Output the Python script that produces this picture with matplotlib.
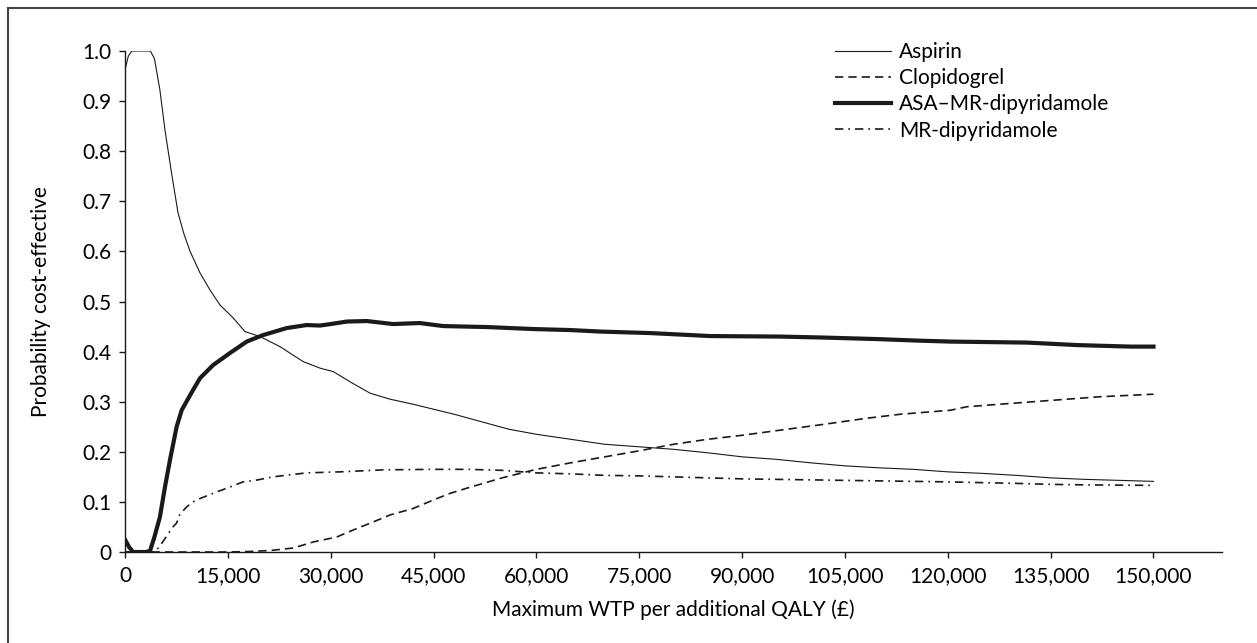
import matplotlib
matplotlib.use("Agg")
import matplotlib.pyplot as plt
from matplotlib.lines import Line2D
from matplotlib.ticker import FuncFormatter

plt.rcParams['font.family'] = ['Lato', 'DejaVu Sans']

# cost-effectiveness acceptability curves
aspirin_x = [0, 500, 1000, 2000, 3000, 3700, 4300, 5100, 5840, 6800, 7740, 8600, 9500,
             10950, 12400, 13860, 15800, 17500, 19700, 22600, 26000, 28450, 30400, 32800,
             35750, 38670, 42000, 45000, 48000, 52000, 56000, 60000, 65000, 70000, 75000,
             80000, 85000, 90000, 95000, 100000, 105000, 110000, 115000, 120000, 125000,
             130000, 135000, 140000, 145000, 150000]
aspirin_y = [0.962, 0.99, 1.0, 1.0, 1.0, 1.0, 0.985, 0.922, 0.842, 0.756, 0.677, 0.635, 0.60,
             0.557, 0.523, 0.493, 0.467, 0.44, 0.43, 0.41, 0.38, 0.367, 0.36, 0.34,
             0.317, 0.305, 0.295, 0.285, 0.275, 0.26, 0.245, 0.235, 0.225, 0.215, 0.21,
             0.205, 0.198, 0.19, 0.185, 0.178, 0.172, 0.168, 0.165, 0.16, 0.157,
             0.153, 0.148, 0.145, 0.143, 0.141]

asa_x = [0, 600, 1200, 2000, 3000, 3650, 4300, 5100, 5840, 6570, 7540, 8270, 9090, 10000,
         10950, 12850, 15300, 17760, 20150, 23600, 26500, 28450, 30000, 32350, 35270, 39100,
         43000, 46400, 52800, 59600, 65000, 69300, 76600, 85400, 95600, 102000, 109700,
         115500, 120400, 126000, 131600, 138900, 146600, 150000]
asa_y = [0.025, 0.01, 0.0, 0.0, 0.0, 0.002, 0.03, 0.07, 0.13, 0.184, 0.25, 0.283, 0.303, 0.325,
         0.347, 0.373, 0.397, 0.42, 0.433, 0.447, 0.453, 0.452, 0.455, 0.46, 0.461, 0.455,
         0.457, 0.451, 0.449, 0.445, 0.443, 0.44, 0.437, 0.431, 0.43, 0.428, 0.425,
         0.422, 0.42, 0.419, 0.418, 0.413, 0.41, 0.41]

clop_x = [0, 5000, 10000, 15000, 18000, 21200, 24560, 27450, 30900, 33300, 36200, 38670,
          42050, 45000, 47400, 50000, 55000, 60000, 65000, 70000, 75000, 80000, 85000, 90000,
          96550, 102000, 108200, 113100, 120400, 122800, 132500, 142300, 150000]
clop_y = [0.0, 0.0, 0.0, 0.0, 0.001, 0.003, 0.008, 0.02, 0.03, 0.044, 0.06, 0.074,
          0.087, 0.104, 0.117, 0.128, 0.148, 0.165, 0.178, 0.19, 0.202, 0.215, 0.225, 0.233,
          0.245, 0.255, 0.267, 0.275, 0.283, 0.29, 0.30, 0.31, 0.315]

mrd_x = [0, 2000, 4000, 4500, 5000, 6000, 7000, 7540, 8000, 9000, 9900, 11000, 13380, 15000,
         17220, 19000, 21600, 24000, 26500, 31400, 37700, 45000, 50000, 55000, 60000, 65000,
         70000, 75000, 80000, 90000, 100000, 105000, 110000, 120000, 130000, 135000, 140000,
         150000]
mrd_y = [0, 0, 0, 0.003, 0.01, 0.03, 0.05, 0.058, 0.075, 0.09, 0.1, 0.107, 0.12, 0.128,
         0.14, 0.143, 0.15, 0.154, 0.158, 0.16, 0.164, 0.165, 0.165, 0.163, 0.158, 0.156,
         0.153, 0.152, 0.15, 0.146, 0.144, 0.143, 0.142, 0.14, 0.137, 0.135, 0.134,
         0.133]

x_ticks = list(range(0, 150001, 15000))
y_ticks = [i / 10 for i in range(11)]

fig = plt.figure(figsize=(12.57, 6.43), dpi=100)
ax = fig.add_axes([0.0994, 0.1415, 0.8728, 0.7792])

ink = '#1a1a1a'
ax.plot(aspirin_x, aspirin_y, color=ink, lw=0.8, label='Aspirin')
ax.plot(clop_x, clop_y, color=ink, lw=1.2, linestyle=(0, (5, 3)), label='Clopidogrel')
ax.plot(asa_x, asa_y, color=ink, lw=3.0, label='ASA\u2013MR-dipyridamole')
ax.plot(mrd_x, mrd_y, color=ink, lw=1.2, linestyle=(0, (5, 3, 1, 3)), label='MR-dipyridamole')

ax.set_xlim(0, 160000)
ax.set_ylim(0, 1.0)
ax.set_xticks(x_ticks)
ax.set_yticks(y_ticks)
ax.xaxis.set_major_formatter(FuncFormatter(lambda v, p: f"{int(v):,}"))
ax.yaxis.set_major_formatter(FuncFormatter(lambda v, p: "0" if v == 0 else f"{v:.1f}"))

for side in ('top', 'right'):
    ax.spines[side].set_visible(False)
for side in ('left', 'bottom'):
    ax.spines[side].set_linewidth(1.0)
    ax.spines[side].set_color(ink)
ax.tick_params(direction='out', length=4, width=1.0, color=ink, labelsize=15, pad=6)

ax.set_xlabel('Maximum WTP per additional QALY (\u00a3)', fontsize=15, labelpad=10)
ax.set_ylabel('Probability cost-effective', fontsize=15, labelpad=22)

leg = ax.legend(loc='upper left', bbox_to_anchor=(0.647, 1.018), frameon=False, fontsize=15,
                borderpad=0, borderaxespad=0, handlelength=2.7, handletextpad=0.4,
                labelspacing=0.3)

# outer frame
fig.add_artist(Line2D([8 / 1257, 8 / 1257], [0, 1 - 8 / 643], color='#444444', lw=1.5,
                      transform=fig.transFigure))
fig.add_artist(Line2D([8 / 1257, 1], [1 - 8 / 643, 1 - 8 / 643], color='#444444', lw=1.5,
                      transform=fig.transFigure))

fig.savefig('out.png', dpi=100)
